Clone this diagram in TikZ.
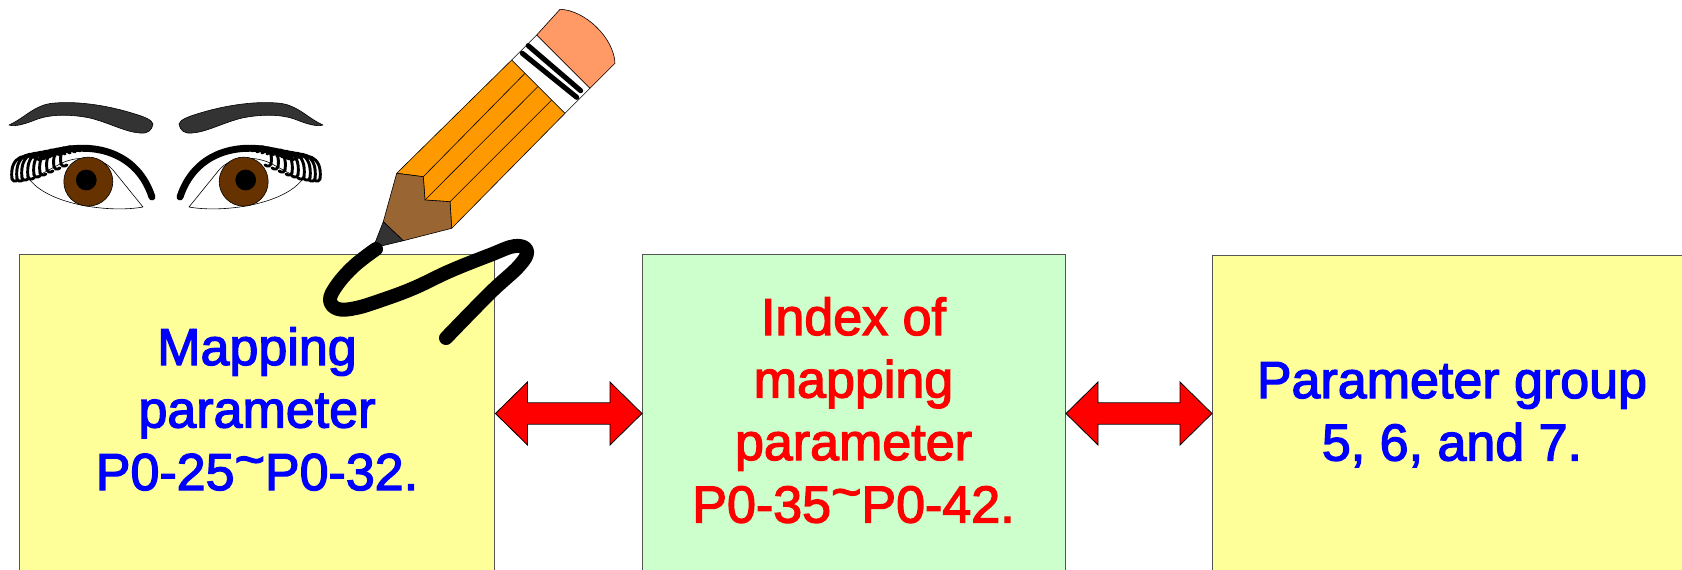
\documentclass[tikz,border=0pt]{standalone}
\usepackage{fontspec}
\setmainfont{Liberation Sans}
\newfontfamily\heavyfont[RawFeature={embolden=2.5}]{Liberation Sans}
\usetikzlibrary{calc}

\definecolor{paleyellow}{HTML}{FFFF99}
\definecolor{palegreen}{HTML}{CCFFCC}
\definecolor{browcol}{HTML}{333333}
\definecolor{iriscol}{HTML}{663300}
\definecolor{woodcol}{HTML}{996633}
\definecolor{paintcol}{HTML}{FF9900}
\definecolor{erasercol}{HTML}{FF9966}
\definecolor{edgecol}{HTML}{555555}

% raised tilde used in the parameter ranges
\newcommand\rangetilde{\raisebox{0.25em}{\textasciitilde}}

\tikzset{
  panel/.style={draw=edgecol, line width=0.75pt, anchor=north west, inner sep=0pt,
                minimum height=260pt},
  paneltext/.style={anchor=base, inner sep=0pt,
                    font=\heavyfont\fontsize{39}{46.875}\selectfont},
  dblarrow/.style={draw=black, fill=red, line width=0.6pt, line join=miter},
  outline/.style={draw=black, line width=0.45pt, line join=round},
  lash/.style={draw=black, line width=2.2pt, line cap=round},
  lid/.style={draw=black, line width=5.2pt, line cap=round},
  scribble/.style={draw=black, line width=10.5pt, line cap=round, line join=round},
}

% block double arrow between two named points on the same row
\newcommand\twoheaded[2]{%
  \draw[dblarrow] (#1) -- ($(#1)+(32,-31.5)$) -- ($(#1)+(32,-10.7)$)
    -- ($(#2)+(-32,-10.7)$) -- ($(#2)+(-32,-31.5)$) -- (#2)
    -- ($(#2)+(-32,31.5)$) -- ($(#2)+(-32,10.7)$)
    -- ($(#1)+(32,10.7)$) -- ($(#1)+(32,31.5)$) -- cycle;}

% one eye with its brow (left one; the right one is its mirror image)
\newcommand\oneeye{%
  % brow
  \path[outline, fill=browcol] (9,125) .. controls (25,118) and (35,104) .. (55,103)
    .. controls (80,101) and (110,106) .. (135,114)
    .. controls (145,117) and (152,120) .. (153,124)
    .. controls (152,130) and (148,134) .. (140,133)
    .. controls (125,132) and (110,123) .. (90,118)
    .. controls (70,114) and (50,114) .. (35,120)
    .. controls (25,124) and (15,127) .. (9,125) -- cycle;
  % white of the eye
  \path[outline, fill=white] (30,180) .. controls (50,205) and (110,213) .. (143,207)
    -- (113,170) .. controls (100,155) and (75,156) .. (60,164) -- cycle;
  % iris and pupil
  \path[outline, fill=iriscol] (88.3,181.6) circle[radius=24.5];
  \fill[black] (86.3,180) circle[radius=10.4];
  % upper lid
  \draw[lid] (42,157) .. controls (80,140) and (135,145) .. (152,197);
  % lashes
  \foreach \rx/\ry/\lx/\by in {40/160/12/179, 45/158/17/179, 50/157/22/178, 55/156/28/177,
                               60/155/34/175, 65/154/40/173, 70/153/47/170, 75/152/54/167,
                               80/151/61/164}{
    \draw[lash] (\rx,\ry) .. controls ({\rx-0.45*(\rx-\lx)},{\ry-8}) and ({\lx-3},{\ry-5}) .. (\lx,\by)
      .. controls (\lx,{\by+2}) and ({\lx+3},{\by+3}) .. ({\lx+6},{\by+1});
  }
}

\begin{document}
\begin{tikzpicture}[x=0.75pt, y=-0.75pt]
\useasboundingbox (0,0) rectangle (1682,569);
\clip (0,0) rectangle (1682,569);
\fill[white] (0,0) rectangle (1682,569);

% the three panels
\node[panel, fill=paleyellow, minimum width=356.6pt] (b1) at (19,254) {};
\node[panel, fill=palegreen,  minimum width=317.25pt] (b2) at (642,254) {};
\node[panel, fill=paleyellow, minimum width=375pt] (b3) at (1212,255) {};

% panel texts
\node[paneltext, text=blue] (t1) at (257,365)
  {\begin{tabular}[t]{@{}c@{}}Mapping\\parameter\\P0-25\rangetilde P0-32.\end{tabular}};
\node[paneltext, text=red] (t2) at (853.5,335)
  {\begin{tabular}[t]{@{}c@{}}Index of\\mapping\\parameter\\P0-35\rangetilde P0-42.\end{tabular}};
\node[paneltext, text=blue] (t3) at (1452,398)
  {\begin{tabular}[t]{@{}c@{}}Parameter group\\5, 6, and 7.\end{tabular}};

% double arrows between the panels
\coordinate (arrowrow) at (0,413.5);
\coordinate (a1l) at (b1.north east |- arrowrow);
\coordinate (a1r) at (b2.north west |- arrowrow);
\coordinate (a2l) at (b2.north east |- arrowrow);
\coordinate (a2r) at (b3.north west |- arrowrow);
\twoheaded{a1l}{a1r}
\twoheaded{a2l}{a2r}

% eyes
\begin{scope}
  \oneeye
\end{scope}
\begin{scope}[shift={(332,0)}, xscale=-1]
  \oneeye
\end{scope}

% pencil: painted body with its facets
\path[outline, fill=paintcol] (396.7,173.3) -- (511.7,60) -- (565,113.3) -- (451.7,228.3)
  -- (450,201.7) -- (425,200) -- (423.3,176.7) -- cycle;
\draw[outline] (423.3,176.7) -- (525,73.3);
\draw[outline] (425,200) -- (538,86.5);
\draw[outline] (450,201.7) -- (551.7,100);
% sharpened wood
\path[outline, fill=woodcol] (396.7,173.3) -- (423.3,176.7) -- (425,200) -- (450,201.7)
  -- (451.7,228.3) -- (403.3,240.7) -- (383.3,221.7) -- cycle;
% lead
\path[outline, fill=browcol] (383.3,221.7) -- (403.3,240.7) -- (373,248) -- cycle;
% ferrule
\path[outline, fill=white] (511.7,60) -- (565,113.3) -- (590,88.3) -- (536.7,35) -- cycle;
\draw[black, line width=3.8pt, line cap=round] (522.3,53.3) -- (576.7,97.3);
\draw[black, line width=3.8pt, line cap=round] (528.3,45.7) -- (580.7,90.7);
% eraser
\path[outline, fill=erasercol] (536.7,35) -- (590,88.3) -- (615,63.3)
  .. controls (614,38) and (585,10) .. (560,9.3) -- cycle;

% pencil stroke
\draw[scribble] plot[smooth, tension=0.65] coordinates {(376,249) (354,266) (337,285)
  (330,300) (338,309) (356,308) (382,300) (414,288) (450,271) (490,255) (515,246)
  (527,251) (519,266) (490,293) (446,338)};
\end{tikzpicture}
\end{document}
